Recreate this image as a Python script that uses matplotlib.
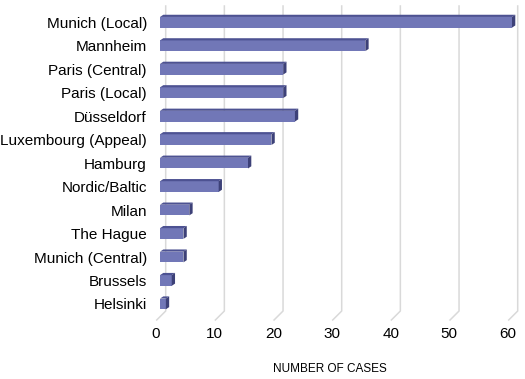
import matplotlib
matplotlib.use("Agg")
import matplotlib.pyplot as plt
from matplotlib.patches import Polygon
from matplotlib.transforms import ScaledTranslation

courts = ["Munich (Local)", "Mannheim", "Paris (Central)", "Paris (Local)", "Düsseldorf",
          "Luxembourg (Appeal)", "Hamburg", "Nordic/Baltic", "Milan", "The Hague",
          "Munich (Central)", "Brussels", "Helsinki"]
cases = [60, 35, 21, 21, 23, 19, 15, 10, 5, 4, 4, 2, 1]
ticks = [0, 10, 20, 30, 40, 50, 60]

plt.rcParams['font.family'] = ['Liberation Sans', 'DejaVu Sans']

W, H = 525, 379
fig = plt.figure(figsize=(W / 100, H / 100), dpi=100)
# axes box in pixels
left, right, top, bottom = 150, 520, 3, 322
ax = fig.add_axes([left / W, 1 - bottom / H, (right - left) / W, (bottom - top) / H])

# pixel scale of the data
px_x = 352 / 60.0      # px per case
px_y = 23.47           # px per bar
x0_px, y0_px = 160, 22.3
ax.set_xlim((left - x0_px) / px_x, (right - x0_px) / px_x)
ax.set_ylim((bottom - y0_px) / px_y, (top - y0_px) / px_y)

front = "#7177B7"
topc = "#4D5292"
side = "#3D4178"
grid = "#D9D9D9"

# back wall gridlines + floor diagonal
gx_off = 5.7 / px_x
g_top = (6 - y0_px) / px_y
g_bot = (311 - y0_px) / px_y
f_dx = 9 / px_x
f_dy = 9 / px_y
for t in ticks:
    xb = t + gx_off
    ax.plot([xb, xb, xb - f_dx], [g_top, g_bot, g_bot + f_dy], color=grid, lw=1.1, zorder=1)

# 3d bars
h = 10.7 / px_y
ddx = 3.3 / px_x
ddy = 2.2 / px_y
for i, v in enumerate(cases):
    yt, yb = i - h / 2, i + h / 2
    ax.add_patch(Polygon([(0, yt), (v, yt), (v, yb), (0, yb)], closed=True,
                         facecolor=front, edgecolor="none", zorder=3))
    ax.add_patch(Polygon([(0, yt), (v, yt), (v + ddx, yt - ddy), (ddx, yt - ddy)], closed=True,
                         facecolor=topc, edgecolor="none", zorder=3))
    ax.add_patch(Polygon([(v, yt), (v + ddx, yt - ddy), (v + ddx, yb - ddy), (v, yb)], closed=True,
                         facecolor=side, edgecolor="none", zorder=3))

ax.set_yticks(range(len(courts)))
ax.set_yticklabels(courts, fontsize=11, color="#000000")
ax.set_xticks(ticks)
ax.set_xticklabels([str(t) for t in ticks], fontsize=11, color="#000000")
ax.tick_params(axis="y", length=0, pad=2.2)
ax.tick_params(axis="x", length=0, pad=3.6)
for lab in ax.get_xticklabels():
    lab.set_transform(lab.get_transform() + ScaledTranslation(-4 / 100, 0, fig.dpi_scale_trans))

ax.set_xlabel("NUMBER OF CASES", fontsize=8.5, va="center")
ax.xaxis.set_label_coords((329.6 - left) / (right - left), -(369 - bottom) / (bottom - top))

for s in ax.spines.values():
    s.set_visible(False)

fig.savefig("out.png", dpi=100)
